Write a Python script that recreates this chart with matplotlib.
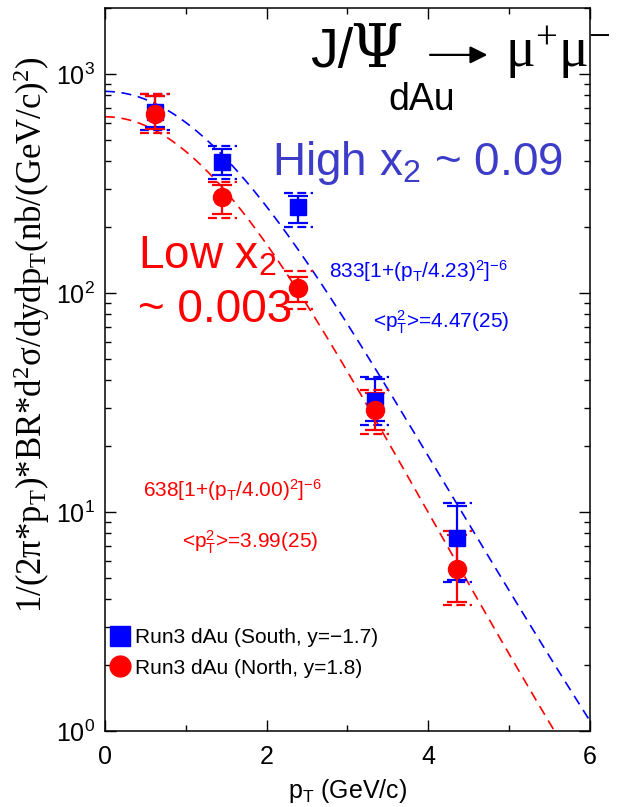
import numpy as np
import matplotlib
matplotlib.use("Agg")
import matplotlib.pyplot as plt
from matplotlib.lines import Line2D
from matplotlib.ticker import FixedLocator, LogLocator, NullFormatter

plt.rcParams['font.family'] = ['Liberation Sans', 'DejaVu Sans']
plt.rcParams['mathtext.default'] = 'regular'

# South arm (y=-1.7), squares
south_pt = np.array([0.62, 1.45, 2.39, 3.34, 4.36])
south_val = np.array([670, 396, 247, 32.1, 7.6])
south_hi = np.array([790, 455, 278, 40.5, 10.7])
south_lo = np.array([575, 346, 209, 26.0, 4.9])
south_sys_hi = np.array([810, 468, 285, 41.5, 11.0])
south_sys_lo = np.array([555, 332, 200, 25.0, 4.8])

# North arm (y=1.8), circles
north_pt = np.array([0.62, 1.45, 2.39, 3.34, 4.36])
north_val = np.array([660, 274, 106, 29.2, 5.5])
north_hi = np.array([790, 312, 118, 35.0, 7.9])
north_lo = np.array([560, 230, 91, 23.8, 3.9])
north_sys_hi = np.array([810, 320, 126, 36.0, 8.2])
north_sys_lo = np.array([540, 220, 85, 22.8, 3.75])

# power-law fits A*[1+(pT/p0)^2]^-6
south_fit = (833, 4.23)
north_fit = (638, 4.00)

blue = '#0000ff'
red = '#ff0000'
serif = ['Liberation Serif', 'DejaVu Serif']

fig = plt.figure(figsize=(6.17, 8.07), dpi=100)
ax = fig.add_axes([0.170, 0.094, 0.786, 0.896])

pt = np.linspace(0, 6, 400)
for (A, p0), c in [(south_fit, blue), (north_fit, red)]:
    ax.plot(pt, A * (1 + (pt / p0) ** 2) ** -6, color=c, lw=1.2,
            dashes=(6, 4), zorder=2)

def draw_set(x, val, lo, hi, slo, shi, marker, color, ms):
    ax.errorbar(x, val, yerr=[val - lo, hi - val], fmt=marker, color=color,
                ms=ms, mec=color, elinewidth=1.6, capsize=7, capthick=1.6,
                zorder=4)
    # systematic brackets
    ax.hlines(np.concatenate([slo, shi]), np.tile(x - 0.18, 2),
              np.tile(x + 0.18, 2), colors=color, lw=1.6,
              linestyles=(0, (4, 2)), zorder=4)

draw_set(south_pt, south_val, south_lo, south_hi, south_sys_lo, south_sys_hi,
         's', blue, 12)
draw_set(north_pt, north_val, north_lo, north_hi, north_sys_lo, north_sys_hi,
         'o', red, 13)

ax.set_yscale('log')
ax.set_xlim(0, 6)
ax.set_ylim(1, 2000)
ax.xaxis.set_major_locator(FixedLocator([0, 2, 4, 6]))
ax.xaxis.set_minor_locator(FixedLocator([1, 3, 5]))
ax.yaxis.set_major_locator(LogLocator(base=10, numticks=10))
ax.yaxis.set_minor_locator(LogLocator(base=10, subs=np.arange(2, 10), numticks=20))
ax.yaxis.set_minor_formatter(NullFormatter())
ax.tick_params(which='both', direction='in', top=True, right=True,
               labelsize=18, width=1)
ax.tick_params(which='major', length=8)
ax.tick_params(axis='x', which='major', pad=10)
ax.tick_params(axis='y', which='major', pad=7)
ax.tick_params(which='minor', length=4)
for s in ax.spines.values():
    s.set_linewidth(1.1)

ax.set_xlabel(r'p$_T$ (GeV/c)', fontsize=18, labelpad=6)
ax.set_ylabel(r'1/(2$\pi$*p$_T$)*BR*d$^2\sigma$/dydp$_T$(nb/(GeV/c)$^2$)',
              fontsize=25, family=serif)
ax.yaxis.set_label_coords(-0.11, 0.549)

# annotations
ax.text(0.344, 0.769, r'High x$_2$ ~ 0.09', color='#3c3cc8', fontsize=33,
        transform=ax.transAxes, va='baseline')
ax.text(0.068, 0.640, r'Low x$_2$', color=red, fontsize=33,
        transform=ax.transAxes, va='baseline')
ax.text(0.068, 0.566, '~ 0.003', color=red, fontsize=33,
        transform=ax.transAxes, va='baseline')
ax.text(0.462, 0.627, r'833[1+(p$_T$/4.23)$^2$]$^{-6}$', color=blue,
        fontsize=15, transform=ax.transAxes, va='baseline')
ax.text(0.553, 0.557, r'<p$_T^2$>=4.47(25)', color=blue,
        fontsize=15, transform=ax.transAxes, va='baseline')
ax.text(0.078, 0.324, r'638[1+(p$_T$/4.00)$^2$]$^{-6}$', color=red,
        fontsize=15, transform=ax.transAxes, va='baseline')
ax.text(0.159, 0.253, r'<p$_T^2$>=3.99(25)', color=red,
        fontsize=15, transform=ax.transAxes, va='baseline')

# reaction title, drawn in pieces; the arrow is an annotation with no text
fig.text(0.502, 0.917, 'J/', fontsize=40, va='baseline')
fig.text(0.568, 0.917, '\u03a8', fontsize=43, va='baseline',
         family=['DejaVu Serif'])
ax.annotate('', xy=(0.790, 0.932), xytext=(0.697, 0.932),
            xycoords='figure fraction', textcoords='figure fraction',
            arrowprops=dict(arrowstyle='-|>', color='black', lw=1.6,
                            mutation_scale=26, shrinkA=0, shrinkB=0),
            annotation_clip=False)
fig.text(0.818, 0.917, r'$\mu^{+}\mu^{-}$', fontsize=40, va='baseline',
         family=serif)
fig.text(0.629, 0.864, 'dAu', fontsize=27, va='baseline')

handles = [Line2D([], [], marker='s', color=blue, ls='none', ms=14),
           Line2D([], [], marker='o', color=red, ls='none', ms=15)]
ax.legend(handles, ['Run3 dAu (South, y=\u22121.7)', 'Run3 dAu (North, y=1.8)'],
          loc='lower left', bbox_to_anchor=(0.016, 0.074), frameon=False,
          fontsize=15, handlelength=0.7, handletextpad=0.35,
          labelspacing=0.55, borderpad=0, borderaxespad=0)

fig.savefig('out.png', dpi=100)
